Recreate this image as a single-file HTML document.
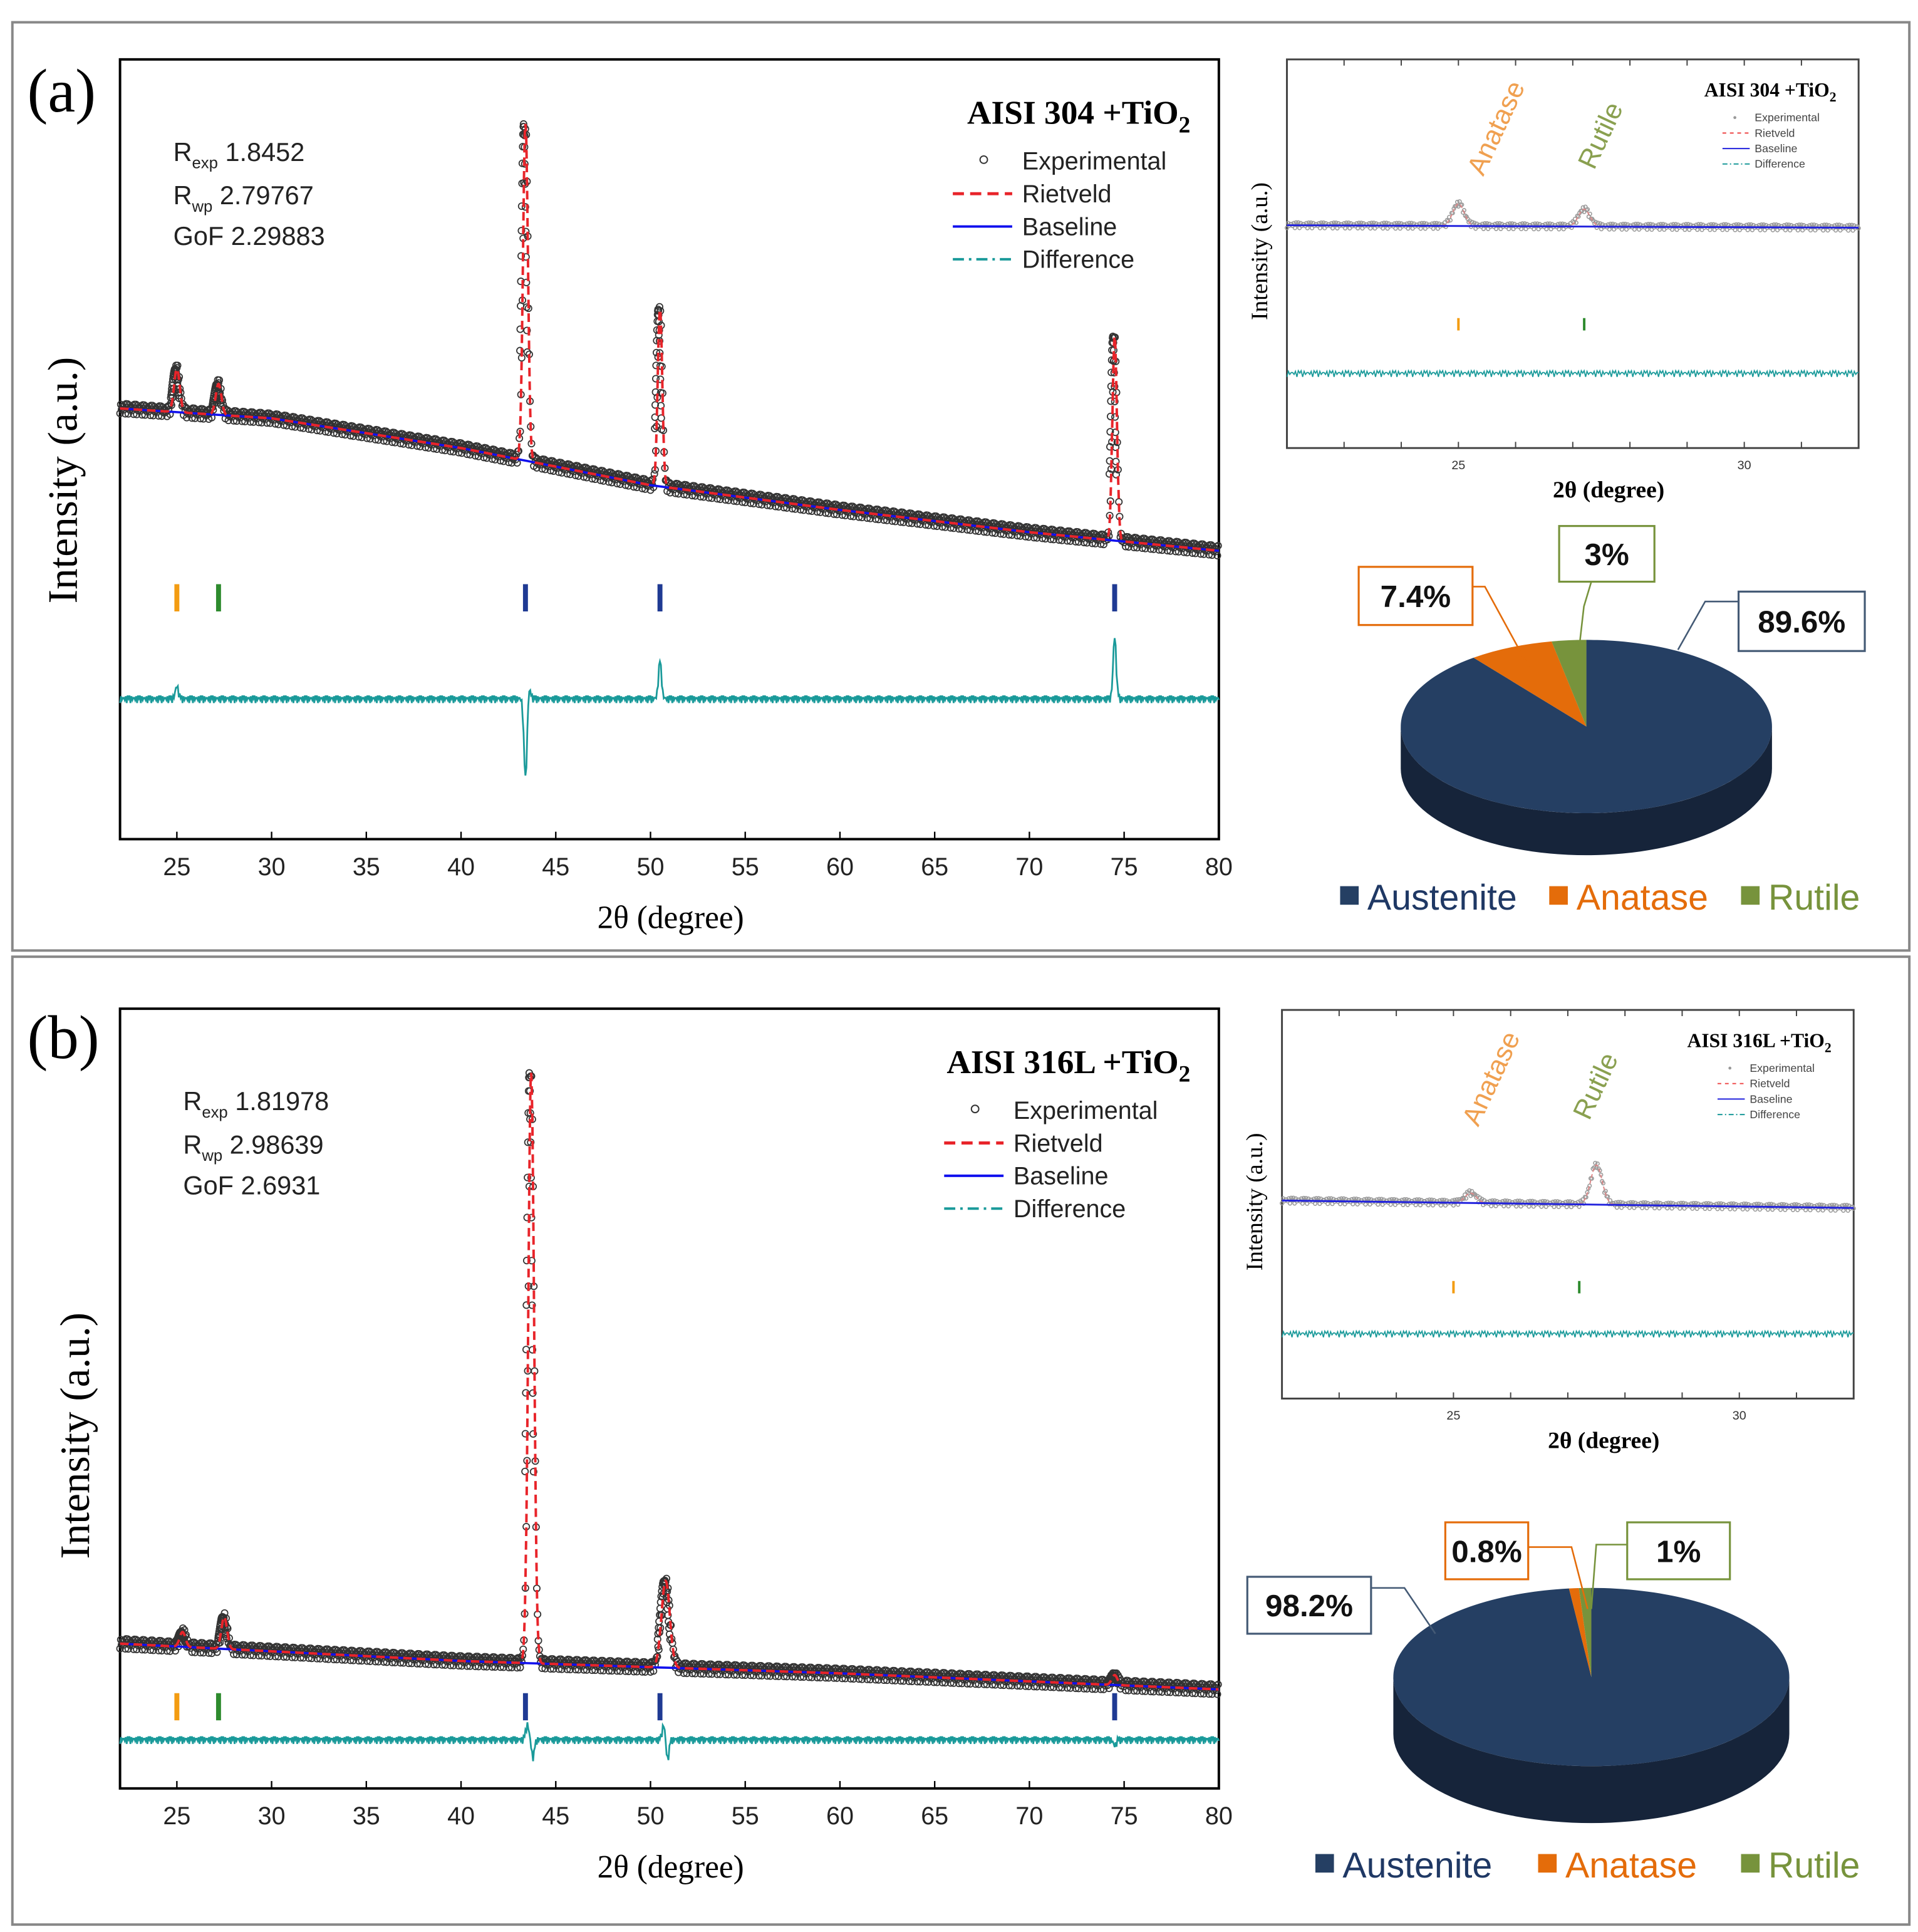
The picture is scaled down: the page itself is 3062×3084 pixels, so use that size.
<!DOCTYPE html>
<html><head><meta charset="utf-8"><style>
html,body{margin:0;padding:0;background:#fff}
svg{display:block}
text{font-family:"Liberation Sans",sans-serif}
.serif{font-family:"Liberation Serif",serif}
</style></head><body>
<svg id="root" width="3062" height="3084" viewBox="0 0 1550 1561" preserveAspectRatio="none" xmlns="http://www.w3.org/2000/svg">
<rect x="0" y="0" width="1550" height="1561" fill="#fff"/>
<rect x="10" y="18" width="1533" height="750" fill="none" stroke="#888" stroke-width="2"/>
<rect x="10" y="773" width="1533" height="782" fill="none" stroke="#888" stroke-width="2"/>
<text class="serif" x="22" y="90" font-size="50">(a)</text>
<text class="serif" x="22" y="855" font-size="50">(b)</text>
<g id="g"></g>
</svg>
<script>
// ===== data (2θ degrees / arbitrary intensity units) =====
const tickValues = [25,30,35,40,45,50,55,60,65,70,75,80];
const insetTickValues = [25,30];
// Panel a main
const aBaseX = [22,30,40,50,60,70,80];
const aBaseY = [348,340,316,286,266,248,233];
const aPeakPos = [25.0,27.2,43.4,50.5,74.5];
const aPeakH = [35,25,272,143,165];
const aPeakW = [0.15,0.15,0.13,0.12,0.12];
const aDiffLevel = 113;
const aDiffPos = [25.0,43.4,43.6,50.5,74.5];
const aDiffH = [10,-65,8,30,50];
// Panel b main
const bBaseX = [22,40,50,60,80];
const bBaseY = [117,103,98,93,80];
const bPeakPos = [25.3,27.5,43.7,50.8,74.5];
const bPeakH = [12,26,477,70,8];
const bPeakW = [0.15,0.15,0.15,0.22,0.15];
const bDiffLevel = 39;
const bDiffPos = [43.5,43.8,50.7,50.9,74.5];
const bDiffH = [12,-14,12,-16,-5];
// Phase reflection markers
const phaseTickPos = [25.0,27.2,43.4,50.5,74.5];
const phaseTickPhase = ['anatase','rutile','austenite','austenite','austenite'];
// Insets
const iaBaseX=[22,32], iaBaseY=[180,178];
const iaPeakPos=[25.0,27.2], iaPeakH=[18,14];
const iaDiff=60;
const ibBaseX=[22,32], ibBaseY=[160,154];
const ibPeakPos=[25.3,27.5], ibPeakH=[8,32];
const ibDiff=52;
// Pie
const pieLabels=['Austenite','Anatase','Rutile'];
const pieA=[89.6,7.4,3];
const pieB=[98.2,0.8,1];
const colors={austenite:'#1f3a93',anatase:'#f39c12',rutile:'#2e8b2e'};
const pieColors=['#253f63','#e46c0a','#77933c'];

const NS='http://www.w3.org/2000/svg';
const G=document.getElementById('g');
function mk(tag,at,parent){const e=document.createElementNS(NS,tag);for(const k in at)e.setAttribute(k,at[k]);(parent||G).appendChild(e);return e;}
function interp(xs,ys,x){for(let i=0;i<xs.length-1;i++){if(x<=xs[i+1]){const t=(x-xs[i])/(xs[i+1]-xs[i]);return ys[i]+t*(ys[i+1]-ys[i]);}}return ys[ys.length-1];}
function model(x,bx,by,pp,ph,pw){let v=interp(bx,by,x);for(let i=0;i<pp.length;i++){const w=pw?pw[i]:0.1;v+=ph[i]*Math.exp(-0.5*((x-pp[i])/w)**2);}return v;}
function diff(x,lvl,dp,dh){let v=lvl;for(let i=0;i<dp.length;i++)v+=dh[i]*Math.exp(-0.5*((x-dp[i])/0.08)**2);return v;}
function wob(j,a){return (((j*j*7+j*3)%11)-5)/5*a;}

function mainPlot(cfg){
  const L=97,R=985,T=cfg.top,B=cfg.top+630;
  const xs=v=>L+(v-22)/(80-22)*(R-L);
  const ys=v=>B-v;
  let e=mk('rect',{x:L,y:T,width:R-L,height:B-T,fill:'none',stroke:'#000','stroke-width':2});
  
  
  tickValues.forEach(v=>{
    mk('line',{x1:xs(v),x2:xs(v),y1:B,y2:B-6,stroke:'#000','stroke-width':1.2});
    const t=mk('text',{x:xs(v),y:B+29,'font-size':20,'text-anchor':'middle',fill:'#222'});t.textContent=v;
    
    
  });
  let t=mk('text',{x:542,y:B+72,'font-size':26,'text-anchor':'middle',class:'serif'});t.textContent='2θ (degree)';
  
  
  t=mk('text',{x:0,y:0,'font-size':34,'text-anchor':'middle',class:'serif',transform:`translate(${cfg.ytx},${cfg.yty}) rotate(-90)`});t.textContent='Intensity (a.u.)';
  
  
  const ge=mk('g',{fill:'none',stroke:'#333','stroke-width':0.9});
  
  
  let j=0;
  for(let x=22;x<=80;x+=0.04){j++;const y=model(x,cfg.bx,cfg.by,cfg.pp,cfg.ph,cfg.pw);mk('circle',{cx:xs(x).toFixed(1),cy:(ys(y)+wob(j,4)).toFixed(1),r:2.6},ge);}
  for(let i=0;i<cfg.pp.length;i++){for(let k=-3;k<=3;k+=0.25){const x=cfg.pp[i]+k*cfg.pw[i]*0.5;const y=model(x,cfg.bx,cfg.by,cfg.pp,cfg.ph,cfg.pw);mk('circle',{cx:xs(x).toFixed(1)-1.5,cy:ys(y).toFixed(1),r:2.6},ge);}}
  let d='';for(let x=22;x<=80;x+=0.5)d+=(d?'L':'M')+xs(x).toFixed(1)+','+ys(interp(cfg.bx,cfg.by,x)).toFixed(1);
  e=mk('path',{d,fill:'none',stroke:'#1010ee','stroke-width':1.8});
  
  
  d='';for(let x=22;x<=80;x+=0.02)d+=(d?'L':'M')+xs(x).toFixed(1)+','+ys(model(x,cfg.bx,cfg.by,cfg.pp,cfg.ph,cfg.pw)).toFixed(1);
  e=mk('path',{d,fill:'none',stroke:'#e8242a','stroke-width':2,'stroke-dasharray':'7,4'});
  
  
  d='';j=0;for(let x=22;x<=80;x+=0.05){j++;d+=(d?'L':'M')+xs(x).toFixed(1)+','+(ys(diff(x,cfg.dl,cfg.dp,cfg.dh))+wob(j,3)).toFixed(1);}
  e=mk('path',{d,fill:'none',stroke:'#1a9a9a','stroke-width':1.4});
  
  
  phaseTickPos.forEach((p,i)=>{
    const m=mk('line',{x1:xs(p),x2:xs(p),y1:cfg.tickY,y2:cfg.tickY+22,stroke:colors[phaseTickPhase[i]],'stroke-width':4});
    
    
  });
  const tt=mk('text',{x:cfg.titleX,y:T+52,'font-size':27,'font-weight':'bold',class:'serif','text-anchor':'end'});
  tt.innerHTML=cfg.title+'TiO<tspan font-size="19" dy="7">2</tspan>';
  
  
  const lg=mk('g',{});
  
  
  const lx=cfg.legX,ly=T+82;
  const items=['Experimental','Rietveld','Baseline','Difference'];
  items.forEach((n,i)=>{const y=ly+i*26.5;
    if(i==0)mk('circle',{cx:lx+25,cy:y-1,r:3,fill:'none',stroke:'#333'},lg);
    if(i==1)mk('line',{x1:lx,x2:lx+48,y1:y,y2:y,stroke:'#e8242a','stroke-width':2.5,'stroke-dasharray':'9,5'},lg);
    if(i==2)mk('line',{x1:lx,x2:lx+48,y1:y,y2:y,stroke:'#1010ee','stroke-width':2},lg);
    if(i==3)mk('line',{x1:lx,x2:lx+48,y1:y,y2:y,stroke:'#1a9a9a','stroke-width':2,'stroke-dasharray':'9,4,2,4'},lg);
    const tx=mk('text',{x:lx+56,y:y+7,'font-size':20,fill:'#222'},lg);tx.textContent=n;
  });
  const sg=mk('g',{'font-size':21,fill:'#222'});
  
  
  const sx=cfg.statX,sy=T+82;
  let s=mk('text',{x:sx,y:sy},sg);s.innerHTML='R<tspan font-size="13" dy="6">exp</tspan><tspan dy="-6"> '+cfg.stats[0]+'</tspan>';
  s=mk('text',{x:sx,y:sy+35},sg);s.innerHTML='R<tspan font-size="13" dy="6">wp</tspan><tspan dy="-6"> '+cfg.stats[1]+'</tspan>';
  s=mk('text',{x:sx,y:sy+68},sg);s.textContent='GoF '+cfg.stats[2];
}
mainPlot({id:'panel-a',top:48,bx:aBaseX,by:aBaseY,pp:aPeakPos,ph:aPeakH,pw:aPeakW,dl:aDiffLevel,dp:aDiffPos,dh:aDiffH,tickY:472,title:'AISI 304 +',titleX:962,legX:770,statX:140,stats:['1.8452','2.79767','2.29883'],ytx:62,yty:388});
mainPlot({id:'panel-b',top:815,bx:bBaseX,by:bBaseY,pp:bPeakPos,ph:bPeakH,pw:bPeakW,dl:bDiffLevel,dp:bDiffPos,dh:bDiffH,tickY:1368,title:'AISI 316L +',titleX:962,legX:763,statX:148,stats:['1.81978','2.98639','2.6931'],ytx:72,yty:1160});

function inset(c){
  const L=c.L,R=c.L+462,T=c.T,B=c.T+314;
  const xs=v=>L+(v-22)/10*(R-L);
  const ys=v=>B-v;
  let e=mk('rect',{x:L,y:T,width:R-L,height:B-T,fill:'none',stroke:'#444','stroke-width':1.5});
  
  
  for(let v=23;v<=31;v++){mk('line',{x1:xs(v),x2:xs(v),y1:B,y2:B-5,stroke:'#444'});mk('line',{x1:xs(v),x2:xs(v),y1:T,y2:T+5,stroke:'#444'});}
  insetTickValues.forEach(v=>{const t=mk('text',{x:xs(v),y:B+17,'font-size':10,'text-anchor':'middle',fill:'#333'});t.textContent=v;
    
    });
  let t=mk('text',{x:L+260,y:B+40,'font-size':19,'font-weight':'bold',class:'serif','text-anchor':'middle'});t.textContent='2θ (degree)';
  
  
  t=mk('text',{x:0,y:0,'font-size':19,class:'serif','text-anchor':'middle',transform:`translate(${L-16},${T+155}) rotate(-90)`});t.textContent='Intensity (a.u.)';
  
  
  const w=[0.1,0.1];
  const ge=mk('g',{fill:'none',stroke:'#999','stroke-width':0.8});
  
  
  let j=0;
  for(let x=22;x<=32;x+=0.02){j++;mk('circle',{cx:xs(x).toFixed(1),cy:(ys(model(x,c.bx,c.by,c.pp,c.ph,w))+wob(j,2.2)).toFixed(1),r:1.4},ge);}
  let d='';for(let x=22;x<=32;x+=0.02)d+=(d?'L':'M')+xs(x).toFixed(1)+','+ys(model(x,c.bx,c.by,c.pp,c.ph,w)).toFixed(1);
  e=mk('path',{d,fill:'none',stroke:'#d88','stroke-width':1,'stroke-dasharray':'3,2'});
  
  
  e=mk('line',{x1:L,x2:R,y1:ys(c.by[0]),y2:ys(c.by[1]),stroke:'#2222dd','stroke-width':1.5});
  
  
  d='';j=0;for(let x=22;x<=32;x+=0.025){j++;d+=(d?'L':'M')+xs(x).toFixed(1)+','+(ys(c.dl)+wob(j,2.5)).toFixed(1);}
  e=mk('path',{d,fill:'none',stroke:'#1a9a9a','stroke-width':0.9});
  
  
  [[25.0,'#f39c12'],[27.2,'#2e8b2e']].forEach(p=>mk('line',{x1:xs(p[0]),x2:xs(p[0]),y1:c.tickY,y2:c.tickY+10,stroke:p[1],'stroke-width':2}));
  t=mk('text',{x:0,y:0,'font-size':22,fill:'#f0a050',transform:`translate(${xs(25)+20},${T+95}) rotate(-65)`});t.textContent='Anatase';
  
  
  t=mk('text',{x:0,y:0,'font-size':22,fill:'#8aa050',transform:`translate(${xs(27.2)+8},${T+90}) rotate(-65)`});t.textContent='Rutile';
  
  
  const tt=mk('text',{x:R-18,y:T+30,'font-size':16,'font-weight':'bold',class:'serif','text-anchor':'end'});
  tt.innerHTML=c.title+'TiO<tspan font-size="11" dy="4">2</tspan>';
  
  
  const lg=mk('g',{'font-size':9,fill:'#444'});
  
  
  const lx=R-110,ly=T+47;
  mk('circle',{cx:lx+10,cy:ly,r:1.2,fill:'#999'},lg);
  mk('line',{x1:lx,x2:lx+22,y1:ly+12.5,y2:ly+12.5,stroke:'#e44','stroke-dasharray':'3,3'},lg);
  mk('line',{x1:lx,x2:lx+22,y1:ly+25,y2:ly+25,stroke:'#22d'},lg);
  mk('line',{x1:lx,x2:lx+22,y1:ly+37.5,y2:ly+37.5,stroke:'#1a9a9a','stroke-dasharray':'4,2,1,2'},lg);
  ['Experimental','Rietveld','Baseline','Difference'].forEach((n,i)=>{const x=mk('text',{x:lx+26,y:ly+3+i*12.5},lg);x.textContent=n;});
}
inset({id:'panel-a',L:1040,T:48,bx:iaBaseX,by:iaBaseY,pp:iaPeakPos,ph:iaPeakH,dl:iaDiff,tickY:257,title:'AISI 304 +'});
inset({id:'panel-b',L:1036,T:816,bx:ibBaseX,by:ibBaseY,pp:ibPeakPos,ph:ibPeakH,dl:ibDiff,tickY:1035,title:'AISI 316L +'});

function pie(c){
  const {cx,cy,rx,ry,dep}=c;
  const P=t=>[cx+rx*Math.sin(t),cy-ry*Math.cos(t)];
  const gp=mk('g',{});
  
  
  let d=`M${cx-rx},${cy} A${rx},${ry} 0 0 0 ${cx+rx},${cy} L${cx+rx},${cy+dep} A${rx},${ry} 0 0 1 ${cx-rx},${cy+dep} Z`;
  let e=mk('path',{d,fill:'#16243a'},gp);
  
  
  const tot=c.vals[0]+c.vals[1]+c.vals[2];
  const a0=0,a1=2*Math.PI*c.vals[0]/tot;
  const r0=-2*Math.PI*c.vals[2]/tot, n0=r0-2*Math.PI*c.vals[1]/tot;
  const seg=(s,t,col,name)=>{const p1=P(s),p2=P(t);const large=(t-s)>Math.PI?1:0;
    const el=mk('path',{d:`M${cx},${cy} L${p1[0]},${p1[1]} A${rx},${ry} 0 ${large} 1 ${p2[0]},${p2[1]} Z`,fill:col},gp);
    
    };
  seg(a0,a1,pieColors[0],'austenite-slice');
  seg(n0,r0,pieColors[1],'anatase-slice');
  seg(r0,0,pieColors[2],'rutile-slice');
  c.boxes.forEach((b,i)=>{
    const g=mk('g',{});
    
    
    mk('polyline',{points:b.line,fill:'none',stroke:b.col,'stroke-width':1.3},g);
    mk('rect',{x:b.x,y:b.y,width:b.w,height:b.h,fill:'#fff',stroke:b.col,'stroke-width':1.6},g);
    const t=mk('text',{x:b.x+b.w/2,y:b.y+b.h/2+9,'font-size':25,'font-weight':'bold','text-anchor':'middle',fill:'#111'},g);
    t.textContent=c.vals[b.k]+'%';
  });
  const lg=mk('g',{'font-size':29});
  
  
  const cols=['#1f3864','#e46c0a','#77933c'];
  c.leg.forEach((x,i)=>{mk('rect',{x:x,y:c.ly-19,width:15,height:15,fill:pieColors[i]},lg);
    const t=mk('text',{x:x+22,y:c.ly,fill:cols[i]},lg);t.textContent=pieLabels[i];});
}
pie({id:'panel-a',cx:1282,cy:587,rx:150,ry:70,dep:34,vals:pieA,ly:735,leg:[1083,1252,1407],
  boxes:[{k:1,x:1098,y:458,w:92,h:47,col:'#e46c0a',line:'1190,474 1200,474 1236,540'},
         {k:2,x:1260,y:425,w:77,h:45,col:'#77933c',line:'1286,470 1280,490 1276,525'},
         {k:0,x:1405,y:478,w:102,h:48,col:'#445a75',line:'1405,486 1378,486 1356,525'}]});
pie({id:'panel-b',cx:1286,cy:1355,rx:160,ry:72,dep:46,vals:pieB,ly:1517,leg:[1063,1243,1407],
  boxes:[{k:1,x:1168,y:1230,w:67,h:46,col:'#e46c0a',line:'1235,1250 1270,1250 1283,1300'},
         {k:2,x:1315,y:1230,w:83,h:46,col:'#77933c',line:'1315,1248 1290,1248 1286,1300'},
         {k:0,x:1008,y:1274,w:100,h:46,col:'#445a75',line:'1108,1283 1135,1283 1160,1320'}]});
</script>
</body></html>
